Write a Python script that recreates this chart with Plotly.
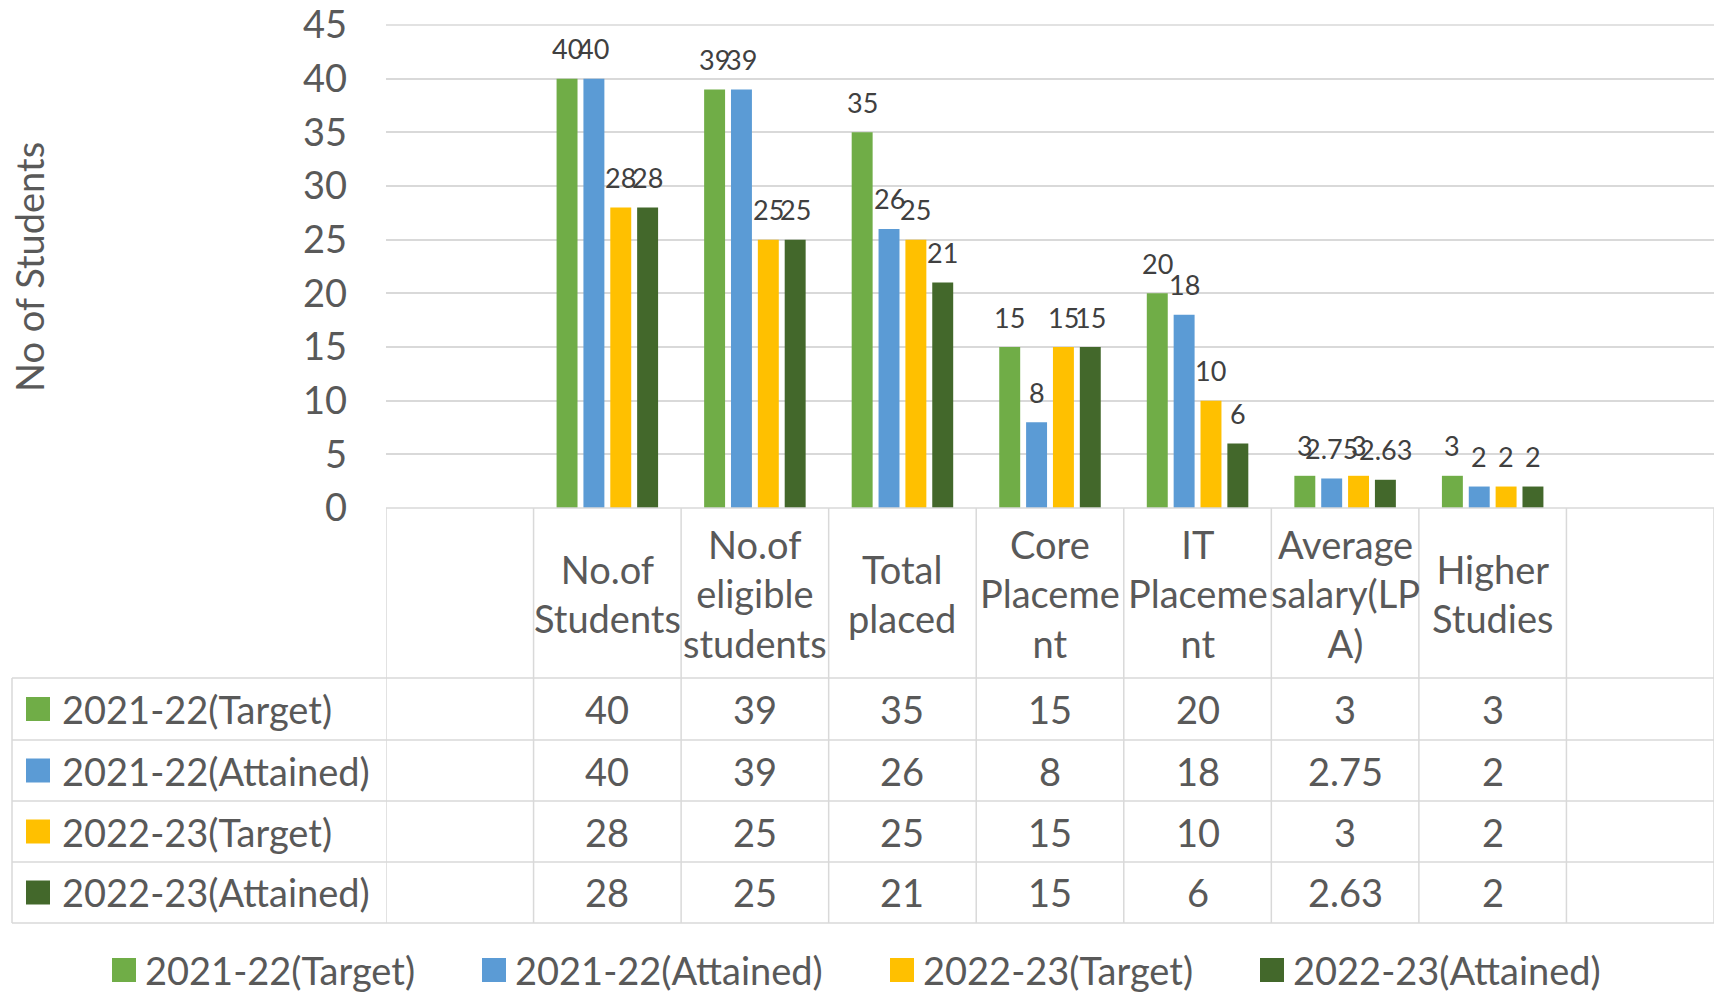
import plotly.graph_objects as go

# ---------------- data ----------------
categories = ["No.of Students", "No.of eligible students", "Total placed",
              "Core Placement", "IT Placement", "Average salary(LPA)", "Higher Studies"]
header_labels = ["No.of<br>Students", "No.of<br>eligible<br>students", "Total<br>placed",
                 "Core<br>Placeme<br>nt", "IT<br>Placeme<br>nt", "Average<br>salary(LP<br>A)",
                 "Higher<br>Studies"]
series_names = ["2021-22(Target)", "2021-22(Attained)", "2022-23(Target)", "2022-23(Attained)"]
target_2122 = [40, 39, 35, 15, 20, 3, 3]
attained_2122 = [40, 39, 26, 8, 18, 2.75, 2]
target_2223 = [28, 25, 25, 15, 10, 3, 2]
attained_2223 = [28, 25, 21, 15, 6, 2.63, 2]
series_values = [target_2122, attained_2122, target_2223, attained_2223]
colors = ["#70AD47", "#5B9BD5", "#FFC000", "#43682B"]
y_title = "No of Students"

# ---------------- layout geometry ----------------
W, H = 1719, 992
L, R, T, B = 386, 5, 25, 484
PW, PH = W - L - R, H - T - B
BASE = H - B  # pixel row of y=0
FONT = "Lato, 'Open Sans', sans-serif"
TXT = "#595959"
LBL = "#404040"
GRID = "#D9D9D9"
FS = 38
BARGAP, GROUPGAP = 0.272, 0.22
n_slots = len(categories) + 2
slot = PW / n_slots


def px(x):
    return (x - L) / PW


def py(y):
    return (BASE - y) / PH


fig = go.Figure()
for name, vals, col in zip(series_names, series_values, colors):
    fig.add_trace(go.Bar(x=categories, y=vals, name=name, marker_color=col,
                         marker_line_width=0, showlegend=False))

annotations = []
shapes = []

# data labels above bars
nser = len(series_values)
for k, vals in enumerate(series_values):
    off = (k - (nser - 1) / 2) * slot * (1 - BARGAP) / nser
    for c, v in zip(categories, vals):
        annotations.append(dict(x=c, y=v, xref="x", yref="y", text=f"{v:g}",
                                showarrow=False, xshift=off, yshift=30, yanchor="middle",
                                font=dict(family=FONT, size=27, color=LBL)))

# y axis title
annotations.append(dict(x=px(29), y=py(267), xref="paper", yref="paper", text=y_title,
                        textangle=-90, showarrow=False, xanchor="center", yanchor="middle",
                        font=dict(family=FONT, size=FS, color=TXT)))

# top gridline (range end)
shapes.append(dict(type="line", xref="paper", yref="paper", x0=0, x1=1, y0=1, y1=1,
                   line=dict(color=GRID, width=1.5), layer="below"))

# ---------------- data table ----------------
line = dict(color=GRID, width=1.5)
row_edges = [678, 740, 801, 862, 923]
header_center = (BASE + row_edges[0]) / 2
shapes.append(dict(type="line", xref="paper", yref="paper", x0=0, x1=1,
                   y0=py(BASE), y1=py(BASE), line=line))
for ye in row_edges:
    shapes.append(dict(type="line", xref="paper", yref="paper", x0=px(12), x1=1,
                       y0=py(ye), y1=py(ye), line=line))
shapes.append(dict(type="line", xref="paper", yref="paper", x0=px(12), x1=px(12),
                   y0=py(row_edges[0]), y1=py(row_edges[-1]), line=line))
for j in range(n_slots + 1):
    xv = -1.5 + j
    shapes.append(dict(type="line", xref="x", yref="paper", x0=xv, x1=xv,
                       y0=py(BASE), y1=py(row_edges[-1]), line=line))

for c, lab in zip(categories, header_labels):
    annotations.append(dict(x=c, y=py(header_center), xref="x", yref="paper", text=lab,
                            showarrow=False, xanchor="center", yanchor="middle",
                            font=dict(family=FONT, size=FS, color=TXT)))

for r, (name, vals, col) in enumerate(zip(series_names, series_values, colors)):
    yc = (row_edges[r] + row_edges[r + 1]) / 2
    shapes.append(dict(type="rect", xref="paper", yref="paper", x0=px(26), x1=px(50),
                       y0=py(yc + 12), y1=py(yc - 12), fillcolor=col, line=dict(width=0)))
    annotations.append(dict(x=px(60), y=py(yc), xref="paper", yref="paper", text=name,
                            showarrow=False, xanchor="left", yanchor="middle",
                            font=dict(family=FONT, size=FS, color=TXT)))
    for c, v in zip(categories, vals):
        annotations.append(dict(x=c, y=py(yc), xref="x", yref="paper", text=f"{v:g}",
                                showarrow=False, xanchor="center", yanchor="middle",
                                font=dict(family=FONT, size=FS, color=TXT)))

# ---------------- bottom legend ----------------
leg_sq = [112, 482, 890, 1260]
leg_y = 970
for name, col, xs in zip(series_names, colors, leg_sq):
    shapes.append(dict(type="rect", xref="paper", yref="paper", x0=px(xs), x1=px(xs + 24),
                       y0=py(leg_y + 12), y1=py(leg_y - 12), fillcolor=col, line=dict(width=0)))
    annotations.append(dict(x=px(xs + 31), y=py(leg_y), xref="paper", yref="paper", text=name,
                            showarrow=False, xanchor="left", yanchor="middle",
                            font=dict(family=FONT, size=FS, color=TXT)))

fig.update_layout(
    width=W, height=H,
    margin=dict(l=L, r=R, t=T, b=B, pad=0, autoexpand=False),
    paper_bgcolor="white", plot_bgcolor="white",
    barmode="group", bargap=BARGAP, bargroupgap=GROUPGAP,
    xaxis=dict(type="category", categoryorder="array", categoryarray=categories,
               range=[-1.5, len(categories) + 0.5], showticklabels=False, showgrid=False,
               zeroline=False, showline=False, ticks="", automargin=False),
    yaxis=dict(range=[0, 45], dtick=5, tick0=0, showgrid=True, gridcolor=GRID, gridwidth=1.5,
               zeroline=False, showline=False, ticks="", ticklabelstandoff=38, automargin=False,
               tickfont=dict(family=FONT, size=FS, color=TXT)),
    annotations=annotations,
    shapes=shapes,
    showlegend=False,
    font=dict(family=FONT, color=TXT),
)

fig.write_html("out.html", config={"displayModeBar": False},
               post_script="document.body.style.margin='0';document.body.style.overflow='hidden';")
